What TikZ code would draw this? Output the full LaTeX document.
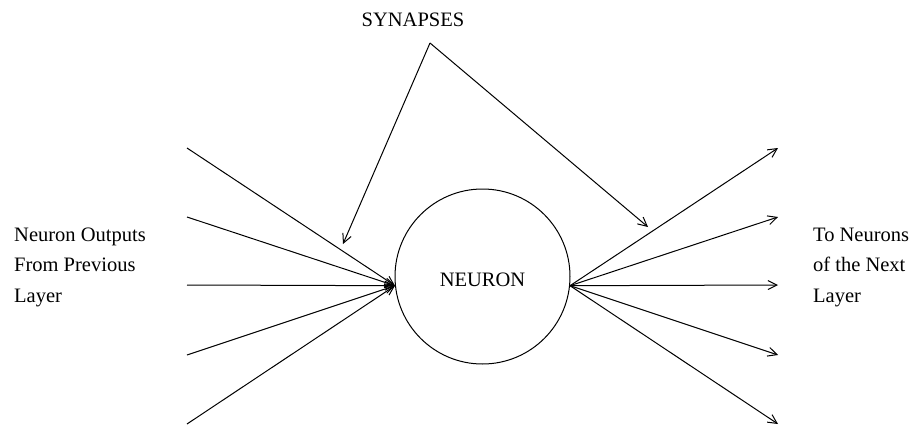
\documentclass[tikz,border=0pt]{standalone}
\usepackage{fontspec}
\setmainfont{Liberation Serif}
\usetikzlibrary{arrows.meta,shapes.geometric}
\begin{document}
\begin{tikzpicture}[x=1pt,y=-1pt,
  conn/.style={line width=1pt,-{Straight Barb[length=9pt,width=9pt,line width=1pt]}},
  lbl/.style={font=\fontsize{20.5}{30.5}\selectfont,align=left,inner sep=0pt,anchor=west},
  neuronbox/.style={draw,line width=1pt,circle,minimum size=175pt,inner sep=0pt}]
\useasboundingbox (0,0) rectangle (914,426);
\node[neuronbox] (neuron) at (482.5,276.5) {};
\node[font=\fontsize{20.5}{24}\selectfont] (ntext) at (482.5,280) {NEURON};
\node[font=\fontsize{20.5}{24}\selectfont] (syn) at (413,20) {SYNAPSES};
\node[lbl] (left) at (14,267) {Neuron Outputs\\From Previous\\Layer};
\node[lbl] (right) at (813,267) {To Neurons\\of the Next\\Layer};
\coordinate (inpt) at (neuron.186);
\coordinate (outpt) at (neuron.354);
\foreach \i/\y in {1/148,2/217,3/285,4/355,5/424}{
  \coordinate (in\i) at (187,\y);
  \coordinate (out\i) at (778,\y);
  \draw[conn] (in\i) -- (inpt);
  \draw[conn] (outpt) -- (out\i);
}
\coordinate (apex) at (430,43);
\coordinate (synA) at (343,244);
\coordinate (synB) at (648,227);
\draw[conn] (apex) -- (synA);
\draw[conn] (apex) -- (synB);
\end{tikzpicture}
\end{document}
